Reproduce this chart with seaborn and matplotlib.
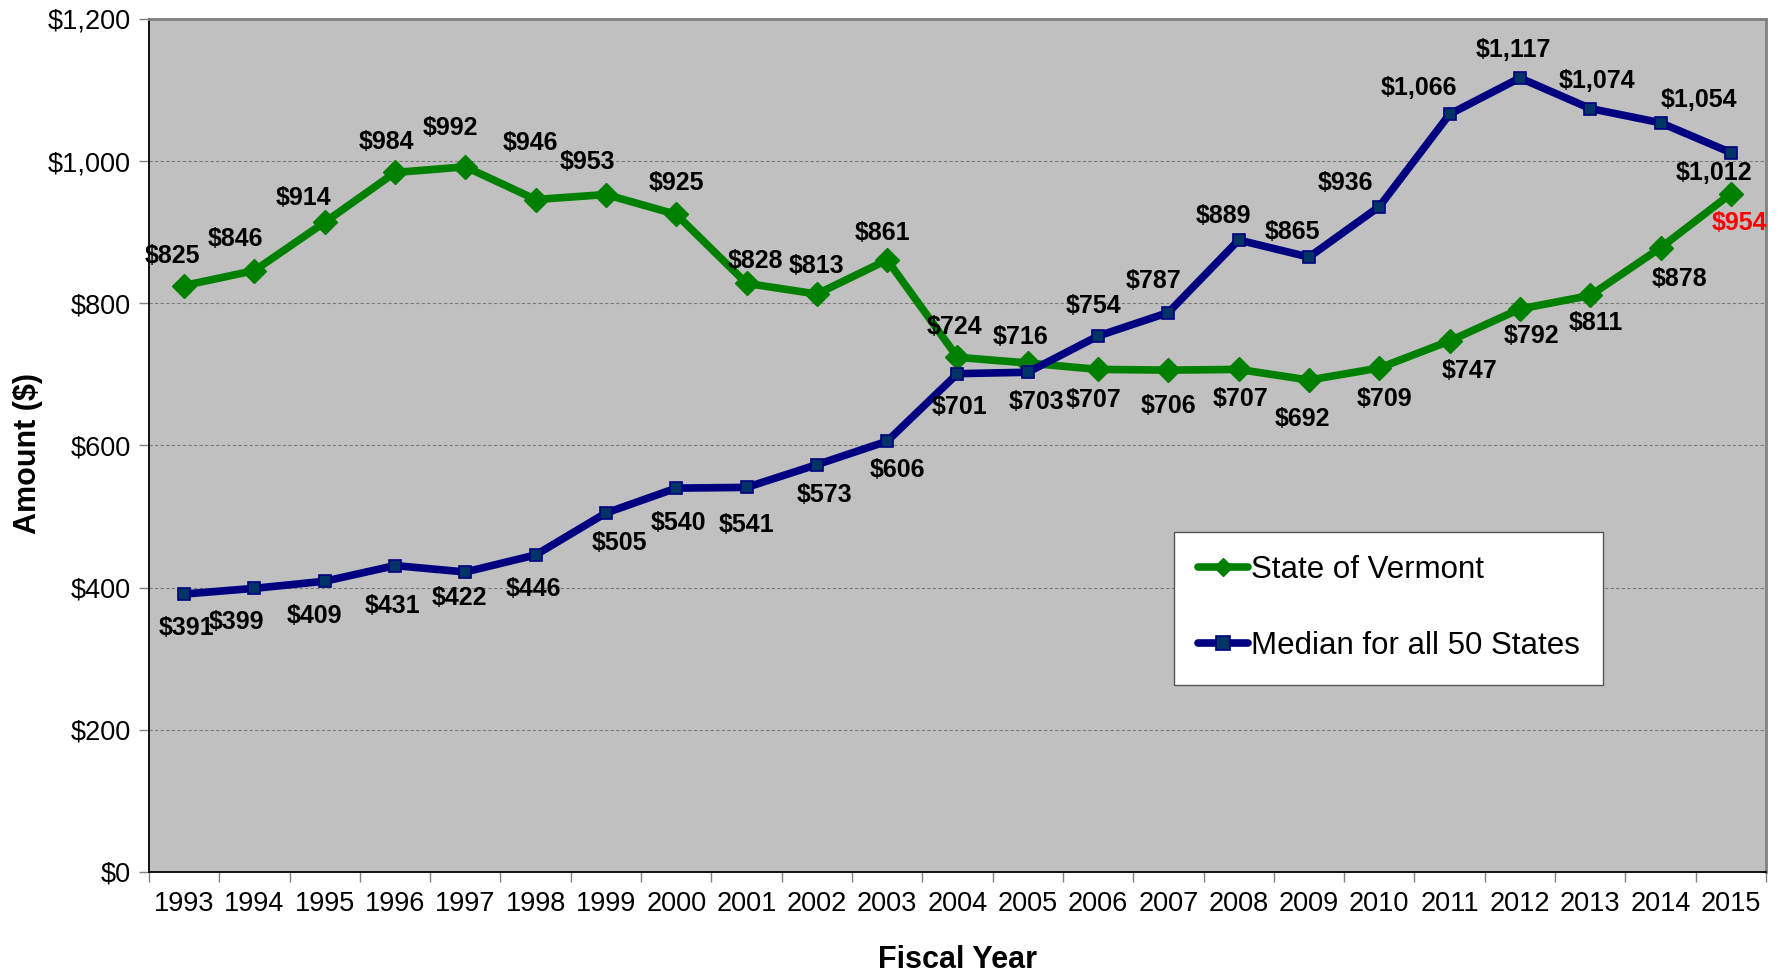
import matplotlib
matplotlib.use("Agg")
import matplotlib.pyplot as plt
import seaborn as sns
import pandas as pd
import numpy as np

# Fiscal years and per-capita amounts
years = [1993, 1994, 1995, 1996, 1997, 1998, 1999, 2000, 2001, 2002, 2003, 2004,
         2005, 2006, 2007, 2008, 2009, 2010, 2011, 2012, 2013, 2014, 2015]
vermont = [825, 846, 914, 984, 992, 946, 953, 925, 828, 813, 861, 724,
           716, 707, 706, 707, 692, 709, 747, 792, 811, 878, 954]
median_50 = [391, 399, 409, 431, 422, 446, 505, 540, 541, 573, 606, 701,
             703, 754, 787, 889, 865, 936, 1066, 1117, 1074, 1054, 1012]
y_ticks = [0, 200, 400, 600, 800, 1000, 1200]

# Label placement (offset from each point, in points)
vt_offsets = [(-10, -26), (-17, -28), (-19, -21), (-8, -27), (-13, -34), (-5, -50),
              (-16, -29), (0, -28), (8, -20), (0, -25), (-4, -24), (-3, -27),
              (-6, -23), (-4, 27), (0, 32), (2, 26), (-6, 34), (5, 27), (18, 26),
              (10, 24), (5, 24), (17, 27), (8, 26)]
md_offsets = [(2, 30), (-16, 30), (-9, 31), (-2, 36), (-5, 23), (-2, 30), (12, 26),
              (2, 31), (0, 33), (7, 27), (9, 25), (2, 29), (8, 26), (-4, -26),
              (-13, -28), (-13, -21), (-15, -22), (-30, -21), (-27, -23), (-6, -25),
              (6, -24), (34, -20), (-15, 18)]

sns.set_style("ticks")
plt.rcParams["font.family"] = ["Liberation Sans", "DejaVu Sans"]
plt.rcParams["text.color"] = "black"
plt.rcParams["axes.labelcolor"] = "black"

GREEN = "#008000"
NAVY = "#000080"
SQUARE_FACE = "#003366"

df = pd.DataFrame({"pos": np.arange(len(years)), "year": years,
                   "vermont": vermont, "median": median_50})

fig = plt.figure(figsize=(17.82, 9.77), dpi=100)
ax = fig.add_axes([0.0836, 0.1075, 0.991 - 0.0836, 0.9806 - 0.1075])
ax.set_facecolor("#C0C0C0")

sns.lineplot(data=df, x="pos", y="vermont", ax=ax, color=GREEN, lw=5.5,
             marker="D", markersize=12.5, markerfacecolor=GREEN,
             markeredgecolor=GREEN, markeredgewidth=1, label="State of Vermont",
             zorder=3)
sns.lineplot(data=df, x="pos", y="median", ax=ax, color=NAVY, lw=5.5,
             marker="s", markersize=9, markerfacecolor=SQUARE_FACE,
             markeredgecolor=NAVY, markeredgewidth=1.2,
             label="Median for all 50 States", zorder=4)

# Value labels
lbl_kw = dict(textcoords="offset points", ha="center", va="center",
              fontsize=18, fontweight="bold", zorder=6)
for i, (v, (dx, dy)) in enumerate(zip(vermont, vt_offsets)):
    col = "#FF0000" if i == len(vermont) - 1 else "black"
    ax.annotate(f"${v:,}", (i, v), xytext=(dx * 0.818, -dy * 0.818),
                color=col, **lbl_kw)
for i, (v, (dx, dy)) in enumerate(zip(median_50, md_offsets)):
    ax.annotate(f"${v:,}", (i, v), xytext=(dx * 0.818, -dy * 0.818),
                color="black", **lbl_kw)

# Axes
ax.set_xlim(-0.5, len(years) - 0.5)
ax.set_ylim(0, 1200)
ax.set_yticks(y_ticks)
ax.set_yticklabels([f"${t:,}" for t in y_ticks])
ax.set_xticks(np.arange(len(years)))
ax.set_xticklabels([str(y) for y in years])
ax.set_xticks(np.arange(len(years) + 1) - 0.5, minor=True)
ax.tick_params(axis="x", which="major", length=0, labelsize=19.5, pad=14,
               labelcolor="black")
ax.tick_params(axis="x", which="minor", length=7, width=1, color="#808080")
ax.tick_params(axis="y", which="major", length=7, width=1, color="#808080",
               labelsize=19.5, pad=6, labelcolor="black")

for t in y_ticks[1:]:
    ax.axhline(t, color="#7a7a7a", lw=0.8, ls=(0, (3, 2)), zorder=1)

for side in ["left", "bottom"]:
    ax.spines[side].set_color("black")
    ax.spines[side].set_linewidth(1.3)
for side in ["top", "right"]:
    ax.spines[side].set_visible(True)
    ax.spines[side].set_color("#808080")
    ax.spines[side].set_linewidth(2)

ax.set_xlabel("Fiscal Year", fontsize=22, fontweight="bold")
ax.set_ylabel("Amount ($)", fontsize=22, fontweight="bold")
ax.xaxis.label.set_va("center")
ax.yaxis.label.set_va("center")
ax.xaxis.set_label_coords(0.5, -0.103)
ax.yaxis.set_label_coords(-0.0748, 0.491)

leg = ax.legend(loc="upper left", bbox_to_anchor=(0.634, 0.3986), fontsize=22.5,
                frameon=True, fancybox=False, shadow=False, framealpha=1,
                edgecolor="#555555", handlelength=1.6, handletextpad=0.1,
                labelspacing=1.47, borderpad=0.75, borderaxespad=0)
leg.get_frame().set_linewidth(1)
leg.set_zorder(10)
handles = leg.legend_handles
handles[0].set_markersize(9)
handles[1].set_markersize(10.5)

fig.savefig("out.png", dpi=100, facecolor="white")
